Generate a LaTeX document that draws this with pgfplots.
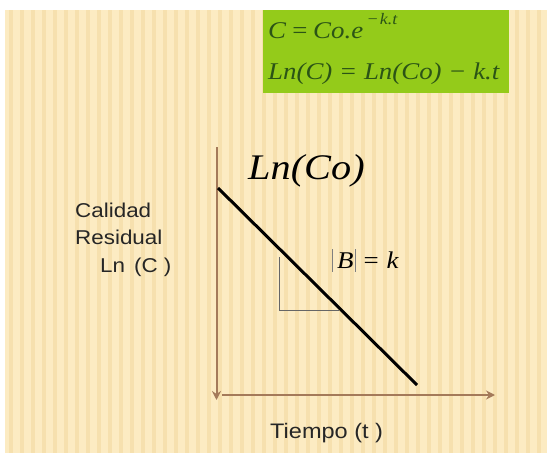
\documentclass[border=0pt]{standalone}
\usepackage{pgfplots}
\pgfplotsset{compat=1.18}
\usepackage{fontspec}
\setmainfont{Liberation Sans}
\newfontfamily\tms{Liberation Serif}
\usetikzlibrary{arrows.meta}
\definecolor{cream}{HTML}{FCEBC2}
\definecolor{stripe}{HTML}{F6E0AE}
\definecolor{axbrown}{HTML}{A47A5A}
\definecolor{boxgreen}{HTML}{94CB1A}
\definecolor{txtgreen}{HTML}{2B5416}
\begin{document}
\begin{tikzpicture}[x=1pt,y=1pt]
\fill[white] (0,0) rectangle (547,455);
\fill[cream] (5,2) rectangle (547,445);
\foreach \i in {0,...,48} \fill[stripe] ({9+\i*11},2) rectangle ({13+\i*11},445);
\begin{axis}[
  at={(0,0)}, anchor=south west,
  scale only axis, width=547pt, height=455pt,
  xmin=0, xmax=547, ymin=0, ymax=455, y dir=reverse,
  axis lines=none, clip=false]
\fill[boxgreen] (axis cs:263,10) rectangle (axis cs:509,93);
\node[anchor=base west, text=txtgreen, font=\tms\itshape\fontsize{24}{28}\selectfont, xscale=1.12, inner sep=0pt]
  at (axis cs:268,38) {C\hspace{4pt}=\hspace{4pt}Co.e\hspace{3pt}\raisebox{0.55em}{\fontsize{16}{18}\selectfont −\hspace{1pt}k.t}};
\node[anchor=base west, text=txtgreen, font=\tms\itshape\fontsize{24}{28}\selectfont, xscale=1.12, inner sep=0pt]
  at (axis cs:268,79) {Ln(C) = Ln(Co) − k.t};
\draw[axbrown, line width=2pt, -{Stealth[length=9pt,width=9pt]}] (axis cs:216.5,147) -- (axis cs:216.5,400);
\draw[axbrown, line width=2pt, -{Stealth[length=9pt,width=9pt]}] (axis cs:222,395) -- (axis cs:495,395);
\draw[gray!80!black, line width=0.8pt] (axis cs:279,257) |- (axis cs:339,310);
\addplot[black, line width=3pt] coordinates {(218,188) (417,385)};
\node[anchor=base west, font=\tms\itshape\fontsize{36}{40}\selectfont, xscale=1.12, inner sep=0pt]
  at (axis cs:248,179) {Ln(Co)};
\draw[gray, line width=0.7pt] (axis cs:332,249) -- (axis cs:332,272);
\draw[gray, line width=0.7pt] (axis cs:355,249) -- (axis cs:355,272);
\node[anchor=base west, font=\tms\itshape\fontsize{24}{28}\selectfont, xscale=1.12, inner sep=0pt]
  at (axis cs:337,268) {B\hspace{9pt}{\upshape =}\hspace{7pt}k};
\node[anchor=base west, font=\fontsize{20}{24}\selectfont, xscale=1.12, inner sep=0pt, text=black!85]
  at (axis cs:75,217) {Calidad};
\node[anchor=base west, font=\fontsize{20}{24}\selectfont, xscale=1.12, inner sep=0pt, text=black!85]
  at (axis cs:75,244) {Residual};
\node[anchor=base west, font=\fontsize{20}{24}\selectfont, xscale=1.12, inner sep=0pt, text=black!85]
  at (axis cs:100,272) {Ln\hspace{8pt}(C )};
\node[anchor=base west, font=\fontsize{21}{24}\selectfont, xscale=1.12, inner sep=0pt, text=black!85]
  at (axis cs:270,438) {Tiempo (t )};
\end{axis}
\end{tikzpicture}
\end{document}
